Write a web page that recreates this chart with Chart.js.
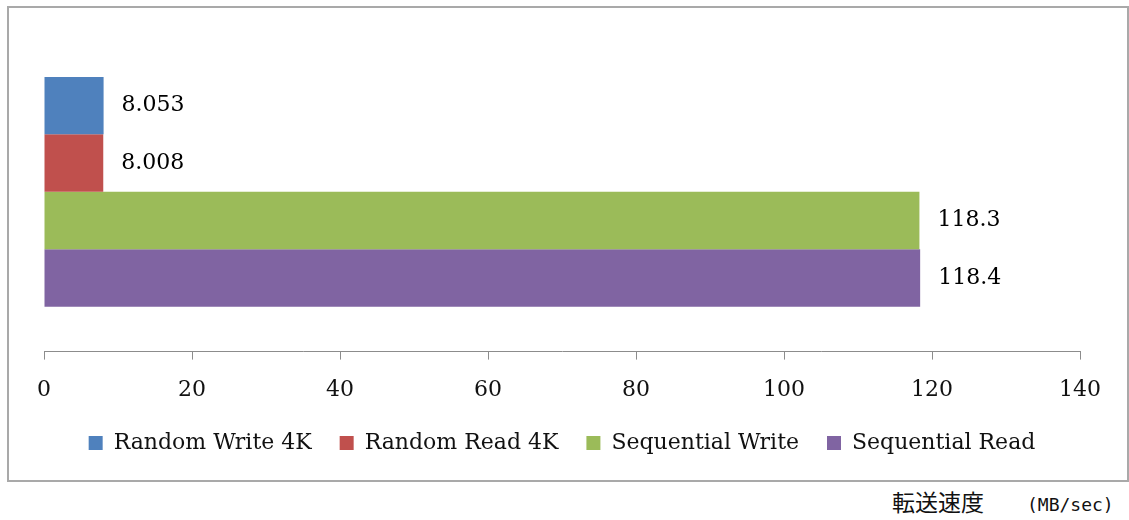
<!DOCTYPE html>
<html>
<head>
<meta charset="utf-8">
<script src="https://cdn.jsdelivr.net/npm/chart.js@4/dist/chart.umd.min.js"></script>
<style>
  body { margin:0; background:#fff; width:1129px; height:520px; overflow:hidden; position:relative; }
  #box { position:absolute; left:7px; top:6px; width:1118px; height:472px; border:2px solid #a9a9a9; }
  #unit { position:absolute; left:892px; top:484px; line-height:34px; font-family:"Noto Sans CJK JP"; font-size:23px; color:#111; white-space:pre; }
  #unit span { font-family:"DejaVu Sans Mono"; font-size:18px; margin-left:43px; }
</style>
</head>
<body>
<div id="box"><canvas id="speed" width="1118" height="472"></canvas></div>
<div id="unit">転送速度<span>(MB/sec)</span></div>
<script>
const categories = [''];
const seriesNames = ['Random Write 4K', 'Random Read 4K', 'Sequential Write', 'Sequential Read'];
const seriesValues = [8.053, 8.008, 118.3, 118.4];
const valueLabels = ['8.053', '8.008', '118.3', '118.4'];
const seriesColors = ['#4F81BD', '#C0504D', '#9BBB59', '#8064A2'];
const xTicks = [0, 20, 40, 60, 80, 100, 120, 140];

const serif = 'DejaVu Serif';

// draw the value next to the end of each bar
const barLabels = {
    id: 'barLabels',
    afterDatasetsDraw(chart) {
        const ctx = chart.ctx;
        ctx.save();
        ctx.font = '22px "' + serif + '"';
        ctx.fillStyle = '#000';
        ctx.textBaseline = 'middle';
        ctx.textAlign = 'left';
        chart.data.datasets.forEach((ds, i) => {
            const bar = chart.getDatasetMeta(i).data[0];
            ctx.fillText(valueLabels[i], bar.x + 18, bar.y);
        });
        ctx.restore();
    }
};

const ctx = document.getElementById('speed').getContext('2d');
const speed = new Chart(ctx, {
    type: 'bar',
    data: {
        labels: categories,
        datasets: seriesNames.map((name, i) => ({
            label: name,
            data: [seriesValues[i]],
            backgroundColor: seriesColors[i],
            borderWidth: 0,
            barPercentage: 1,
            categoryPercentage: 0.719
        }))
    },
    options: {
        indexAxis: 'y',
        responsive: false,
        animation: false,
        layout: { padding: { left: 35, right: 47, top: 24, bottom: 16 } },
        scales: {
            x: {
                min: 0,
                max: 140,
                afterBuildTicks(scale) { scale.ticks = xTicks.map(v => ({ value: v })); },
                // let the legend sit a little closer to the tick labels
                afterFit(scale) { scale.height = scale.height - 16; },
                grid: { drawOnChartArea: false, color: '#8c8c8c', tickLength: 8, lineWidth: 1 },
                border: { color: '#8c8c8c', width: 1 },
                ticks: { font: { family: serif, size: 22 }, color: '#111', padding: 17 }
            },
            y: { display: false }
        },
        plugins: {
            legend: {
                position: 'bottom',
                labels: {
                    boxWidth: 14,
                    boxHeight: 14,
                    padding: 28,
                    font: { family: serif, size: 22 },
                    color: '#111'
                }
            },
            tooltip: { enabled: false }
        }
    },
    plugins: [barLabels]
});
</script>
</body>
</html>
